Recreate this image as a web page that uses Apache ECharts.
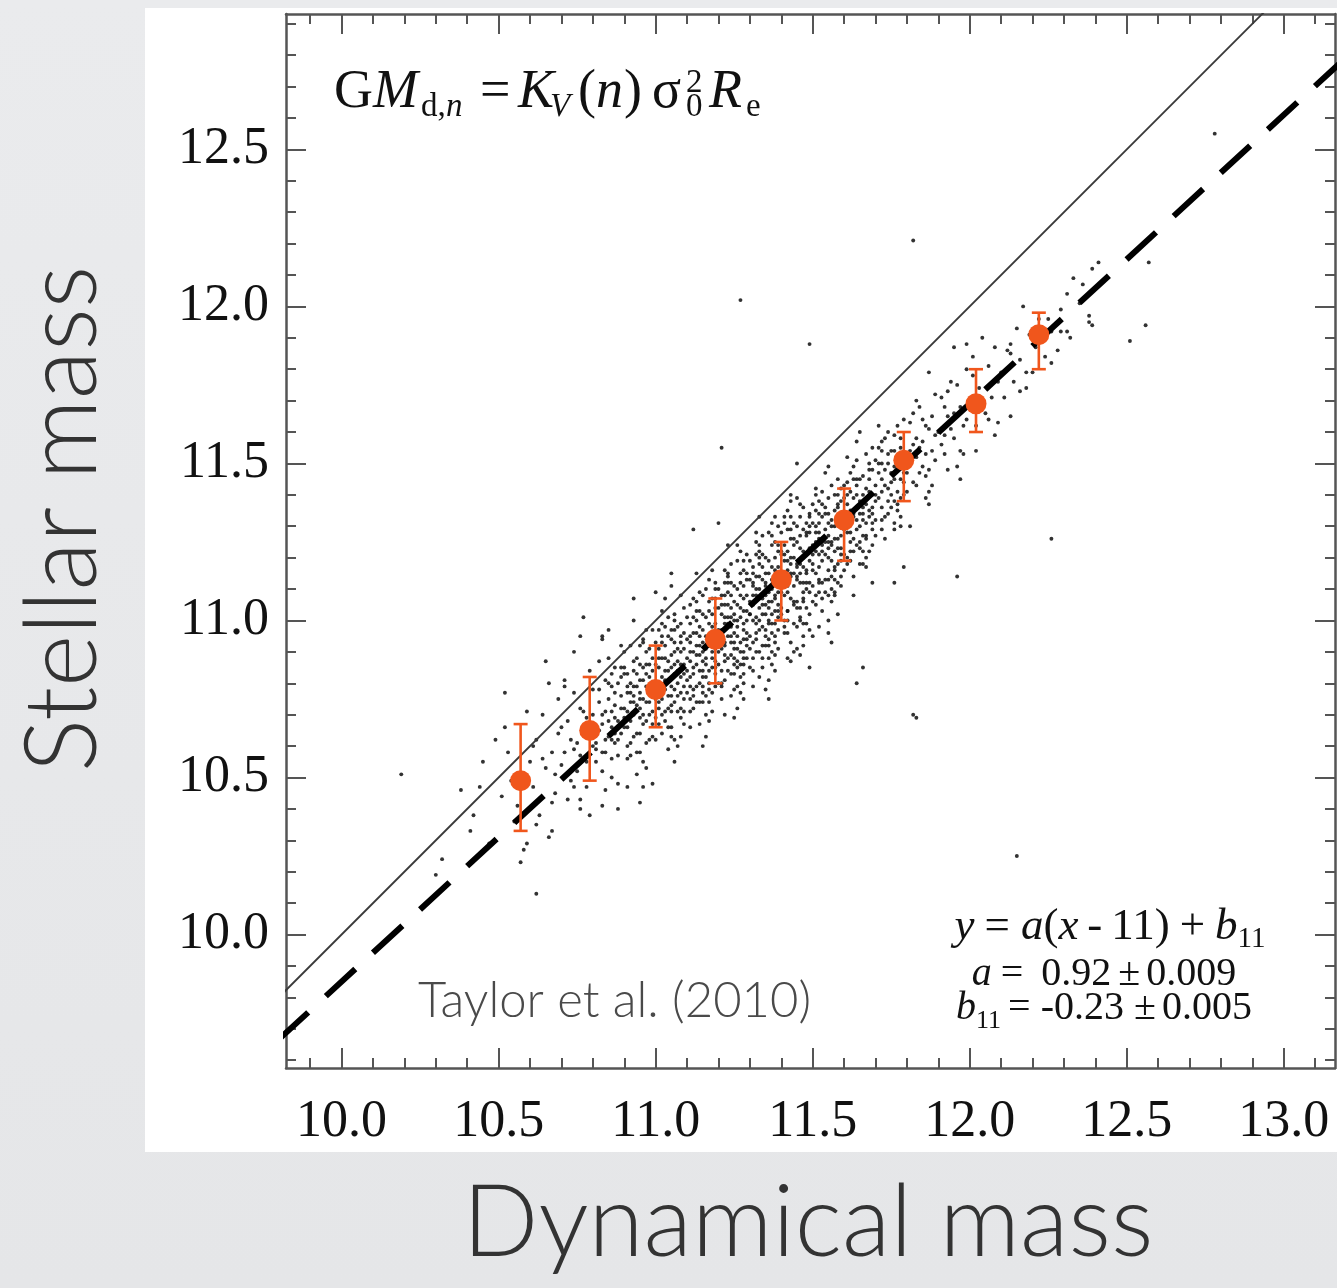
<!DOCTYPE html>
<html>
<head>
<meta charset="utf-8">
<script src="https://cdn.jsdelivr.net/npm/echarts@6/dist/echarts.min.js"></script>
<style>
  html, body { margin: 0; padding: 0; width: 1337px; height: 1288px; overflow: hidden;
    background: linear-gradient(180deg, #eaebed 0%, #e5e6e8 100%); }
  #panel { position: absolute; left: 145px; top: 8px; width: 1192px; height: 1144px; background: #ffffff; }
  #chart { position: absolute; left: 0; top: 0; width: 1337px; height: 1288px; }
</style>
</head>
<body>
<div id="panel"></div>
<div id="chart"></div>
<script>
// ---- axis ranges and tick labels (log masses) ----
const xRange = [9.823, 13.163];
const yRange = [9.575, 12.931];
const xMajorTicks = [10.0, 10.5, 11.0, 11.5, 12.0, 12.5, 13.0];
const yMajorTicks = [10.0, 10.5, 11.0, 11.5, 12.0, 12.5];

// ---- binned medians with error bars ----
const binDyn    = [10.57, 10.79, 11.00, 11.19, 11.40, 11.60, 11.79, 12.02, 12.22];
const binStel   = [10.49, 10.65, 10.78, 10.94, 11.13, 11.32, 11.51, 11.69, 11.91];
const binStelHi = [10.67, 10.82, 10.92, 11.07, 11.25, 11.42, 11.60, 11.80, 11.98];
const binStelLo = [10.33, 10.49, 10.66, 10.80, 11.00, 11.19, 11.38, 11.60, 11.80];

// ---- fit parameters: y = a (x - 11) + b11, relative to the 10^11 pivot ----
const fitA = 0.92;
const fitAErr = 0.009;
const fitB11 = -0.23;
const fitB11Err = 0.005;
const fitPivot = 11;
const lineSpan = [9.5, 13.5];

// ---- individual galaxies: [log M_dyn, log M_star] ----
const galaxiesSparse = [
  [10.19,10.51],[11.27,12.02],[11.49,11.88],[11.82,12.21],[12.78,12.55],[12.26,11.26],[11.83,10.69],
  [12.15,10.25],[11.66,10.85],[11.64,10.80],[11.96,11.14],[10.62,10.13],[10.30,10.19],[10.32,10.24],
  [10.38,10.46],[12.41,12.14],[12.57,12.14],[12.56,11.94],[12.51,11.89],[12.38,11.97],[12.39,11.94],
  [12.33,12.09],[12.36,12.07],[12.31,12.04],[12.17,12.00],[12.39,12.12],[11.76,11.12],[11.79,11.17],
  [11.82,10.70],[11.56,10.93],[11.49,10.85],[11.43,10.87],[11.21,11.55],[11.12,11.29],[11.20,11.31],
  [11.05,11.15],[11.00,11.09],[10.93,11.07],[11.45,11.50],[10.85,10.97],[11.05,11.11],[10.77,11.01],
  [10.76,10.95],[10.83,10.94],[10.52,10.77],[10.65,10.87],[10.71,10.81],[10.95,10.42],[10.88,10.40],
  [10.83,10.41],[10.76,10.40],[10.74,10.47],[10.67,10.33],[10.59,10.29],[10.57,10.23],[10.91,10.47],
  [10.99,10.48],[11.87,11.79],[11.95,11.87],[11.99,11.88],[12.04,11.90],[12.08,11.87],[12.13,11.88],
  [12.13,11.85],[12.16,11.73],[12.13,11.65],[12.09,11.63],[12.28,11.86],[12.31,11.92],[11.97,11.45],
  [11.98,11.53],[12.02,11.54],[11.93,11.48],[11.87,11.37],[11.83,11.43],[11.81,11.30],[11.78,11.30],
  [11.69,11.34],[11.87,11.41],[12.15,11.93],[12.18,11.79],[12.20,11.79],[12.26,11.82],[12.29,11.92],
  [12.25,11.96]
];

const galaxiesCore = [
  [10.42,10.38],[10.45,10.55],[10.47,10.29],[10.44,10.47],[10.49,10.62],[10.41,10.33],
  [10.51,10.44],[10.53,10.58],[10.55,10.36],[10.52,10.66],[10.57,10.51],[10.58,10.27],[10.54,10.49],
  [10.59,10.71],[10.56,10.41],[10.60,10.55],
  [10.61,10.47],[10.62,10.62],[10.63,10.38],[10.64,10.70],[10.65,10.53],[10.66,10.31],[10.67,10.58],
  [10.68,10.45],[10.66,10.80],[10.69,10.64],[10.62,10.35],[10.64,10.56],[10.67,10.42],[10.69,10.75],
  [10.61,10.60],[10.68,10.51],
  [10.71,10.58],[10.72,10.68],[10.73,10.49],[10.74,10.77],[10.75,10.61],[10.76,10.43],[10.77,10.71],
  [10.78,10.55],[10.79,10.84],[10.70,10.66],[10.72,10.43],[10.74,10.59],[10.76,10.72],[10.78,10.47],
  [10.71,10.79],[10.73,10.62],[10.75,10.52],[10.77,10.64],[10.79,10.38],[10.70,10.54],[10.74,10.90],
  [10.76,10.57],[10.78,10.69],[10.80,10.60],
  [10.81,10.66],[10.82,10.74],[10.83,10.58],[10.84,10.81],[10.85,10.63],[10.86,10.50],[10.87,10.77],
  [10.88,10.68],[10.89,10.92],[10.81,10.55],[10.82,10.87],[10.83,10.70],[10.84,10.46],[10.85,10.75],
  [10.86,10.62],[10.87,10.85],[10.88,10.57],[10.89,10.72],[10.80,10.78],[10.81,10.61],[10.83,10.95],
  [10.85,10.68],[10.86,10.79],[10.88,10.48],[10.89,10.64],[10.82,10.65],[10.84,10.71],[10.86,10.56],
  [10.87,10.69],[10.90,10.83],[10.83,10.52],[10.85,10.88],[10.87,10.61],[10.89,10.76],[10.84,10.62],
  [10.91,10.71],[10.92,10.80],[10.93,10.63],[10.94,10.88],[10.95,10.69],[10.96,10.55],[10.97,10.83],
  [10.98,10.74],[10.99,10.97],[10.91,10.60],[10.92,10.92],[10.93,10.76],[10.94,10.51],[10.95,10.81],
  [10.96,10.67],[10.97,10.90],[10.98,10.62],[10.99,10.78],[10.90,10.85],[10.91,10.66],[10.93,11.00],
  [10.94,10.73],[10.95,10.86],[10.97,10.53],[10.98,10.70],[10.92,10.68],[10.93,10.84],[10.95,10.58],
  [10.96,10.75],[10.99,10.88],[10.91,10.77],[10.94,10.64],[10.96,10.94],[10.98,10.82],[10.90,10.72],
  [10.92,10.57],[10.95,10.77],[10.97,10.68],[10.99,10.63],[10.93,10.70],[10.94,10.79],[10.96,10.47],
  [10.98,10.91],[10.91,10.83],[10.95,10.64],[10.97,10.79],[10.92,10.74],[10.99,10.71],[10.94,10.58],
  [10.96,10.85],
  [11.01,10.79],[11.02,10.88],[11.03,10.71],[11.04,10.95],[11.05,10.76],[11.06,10.62],[11.07,10.91],
  [11.08,10.82],[11.09,11.04],[11.01,10.67],[11.02,10.99],[11.03,10.84],[11.04,10.59],[11.05,10.89],
  [11.06,10.74],[11.07,10.98],[11.08,10.69],[11.09,10.86],[11.00,10.93],[11.01,10.74],[11.03,11.07],
  [11.04,10.81],[11.05,10.94],[11.07,10.60],[11.08,10.77],[11.02,10.75],[11.03,10.92],[11.05,10.66],
  [11.06,10.83],[11.09,10.96],[11.01,10.85],[11.04,10.72],[11.06,11.02],[11.08,10.90],[11.00,10.80],
  [11.02,10.64],[11.05,10.85],[11.07,10.76],[11.09,10.71],[11.03,10.78],[11.04,10.87],[11.06,10.55],
  [11.08,10.99],[11.01,10.91],[11.05,10.71],[11.07,10.87],[11.02,10.82],[11.09,10.79],[11.04,10.66],
  [11.06,10.93],[11.03,10.98],[11.08,10.63],[11.00,10.69],[11.05,10.79],[11.07,10.84],[11.09,10.91],
  [11.02,10.70],[11.06,10.78],[11.04,11.01],[11.08,10.86],
  [11.11,10.87],[11.12,10.96],[11.13,10.79],[11.14,11.03],[11.15,10.84],[11.16,10.70],[11.17,10.99],
  [11.18,10.90],[11.19,11.12],[11.11,10.75],[11.12,11.07],[11.13,10.92],[11.14,10.67],[11.15,10.97],
  [11.16,10.82],[11.17,11.06],[11.18,10.77],[11.19,10.94],[11.10,11.01],[11.11,10.82],[11.13,11.15],
  [11.14,10.89],[11.15,11.02],[11.17,10.68],[11.18,10.85],[11.12,10.83],[11.13,11.00],[11.15,10.74],
  [11.16,10.91],[11.19,11.04],[11.11,10.93],[11.14,10.80],[11.16,11.10],[11.18,10.98],[11.10,10.88],
  [11.12,10.72],[11.15,10.93],[11.17,10.84],[11.19,10.79],[11.13,10.86],[11.14,10.95],[11.16,10.63],
  [11.18,11.07],[11.11,10.99],[11.15,10.79],[11.17,10.95],[11.12,10.90],[11.19,10.87],[11.14,10.74],
  [11.16,11.01],[11.13,11.06],[11.18,10.71],[11.10,10.77],[11.15,10.87],[11.17,10.92],[11.19,10.99],
  [11.12,10.78],[11.16,10.86],[11.14,11.09],[11.18,10.94],[11.11,10.66],[11.13,10.96],[11.17,11.13],
  [11.15,10.60],[11.19,10.83],
  [11.21,10.96],[11.22,11.05],[11.23,10.88],[11.24,11.12],[11.25,10.93],[11.26,10.79],[11.27,11.08],
  [11.28,10.99],[11.29,11.21],[11.21,10.84],[11.22,11.16],[11.23,11.01],[11.24,10.76],[11.25,11.06],
  [11.26,10.91],[11.27,11.15],[11.28,10.86],[11.29,11.03],[11.20,11.10],[11.21,10.91],[11.23,11.24],
  [11.24,10.98],[11.25,11.11],[11.27,10.77],[11.28,10.94],[11.22,10.92],[11.23,11.09],[11.25,10.83],
  [11.26,11.00],[11.29,11.13],[11.21,11.02],[11.24,10.89],[11.26,11.19],[11.28,11.07],[11.20,10.97],
  [11.22,10.81],[11.25,11.02],[11.27,10.93],[11.29,10.88],[11.23,10.95],[11.24,11.04],[11.26,10.72],
  [11.28,11.16],[11.21,11.08],[11.25,10.88],[11.27,11.04],[11.22,10.99],[11.29,10.96],[11.24,10.83],
  [11.26,11.10],[11.23,11.15],[11.28,10.80],[11.20,10.86],[11.25,10.96],[11.27,11.01],[11.29,11.08],
  [11.22,10.87],[11.26,10.95],[11.24,11.18],[11.28,11.03],[11.21,10.75],[11.23,11.05],[11.27,11.22],
  [11.25,10.69],[11.29,10.92],[11.20,11.04],[11.22,11.12],[11.26,10.85],[11.28,10.90],[11.24,10.93],
  [11.31,11.05],[11.32,11.14],[11.33,10.97],[11.34,11.21],[11.35,11.02],[11.36,10.88],[11.37,11.17],
  [11.38,11.08],[11.39,11.30],[11.31,10.93],[11.32,11.25],[11.33,11.10],[11.34,10.85],[11.35,11.15],
  [11.36,11.00],[11.37,11.24],[11.38,10.95],[11.39,11.12],[11.30,11.19],[11.31,11.00],[11.33,11.33],
  [11.34,11.07],[11.35,11.20],[11.37,10.86],[11.38,11.03],[11.32,11.01],[11.33,11.18],[11.35,10.92],
  [11.36,11.09],[11.39,11.22],[11.31,11.11],[11.34,10.98],[11.36,11.28],[11.38,11.16],[11.30,11.06],
  [11.32,10.90],[11.35,11.11],[11.37,11.02],[11.39,10.97],[11.33,11.04],[11.34,11.13],[11.36,10.81],
  [11.38,11.25],[11.31,11.17],[11.35,10.97],[11.37,11.13],[11.32,11.08],[11.39,11.05],[11.34,10.92],
  [11.36,11.19],[11.33,11.24],[11.38,10.89],[11.30,10.95],[11.35,11.05],[11.37,11.10],[11.39,11.17],
  [11.32,10.96],[11.36,11.04],[11.34,11.27],[11.38,11.12],[11.31,10.84],[11.33,11.14],[11.37,11.31],
  [11.35,10.78],[11.39,11.01],[11.30,11.13],[11.32,11.21],[11.36,10.94],[11.38,10.99],[11.34,11.02],
  [11.40,11.21],[11.41,11.08],[11.42,11.29],[11.43,11.14],[11.44,10.99],[11.45,11.25],[11.46,11.18],
  [11.47,11.36],[11.48,11.10],[11.49,11.23],[11.40,11.02],[11.41,11.31],[11.42,11.16],[11.43,10.93],
  [11.44,11.20],[11.45,11.06],[11.46,11.33],[11.47,11.12],[11.48,11.27],[11.49,10.97],[11.41,11.19],
  [11.42,11.03],[11.43,11.26],[11.44,11.11],[11.45,11.39],[11.46,11.00],[11.47,11.22],[11.48,11.15],
  [11.49,11.34],[11.40,11.13],[11.42,10.96],[11.43,11.20],[11.45,11.13],[11.46,11.27],[11.48,11.04],
  [11.49,11.19],[11.41,11.24],[11.44,11.31],[11.47,10.95],[11.40,11.28],[11.43,11.07],[11.46,11.12],
  [11.49,11.28],[11.42,11.22],[11.45,10.91],[11.48,11.21],[11.41,11.00],[11.44,11.15],[11.47,11.29],
  [11.40,11.09],[11.43,11.33],[11.46,11.23],[11.49,11.09],[11.42,11.11],[11.45,11.18],[11.48,11.31],
  [11.44,11.05],[11.47,11.17],[11.41,11.14],[11.46,10.89],[11.43,11.38],[11.48,10.99],[11.45,11.30],
  [11.42,11.35],[11.47,11.06],
  [11.50,11.24],[11.51,11.35],[11.52,11.17],[11.53,11.41],[11.54,11.29],[11.55,11.08],[11.56,11.32],
  [11.57,11.22],[11.58,11.45],[11.59,11.19],[11.50,11.11],[11.51,11.28],[11.52,11.38],[11.53,11.03],
  [11.54,11.21],[11.55,11.34],[11.56,11.14],[11.57,11.40],[11.58,11.26],[11.59,11.33],[11.50,11.31],
  [11.51,11.15],[11.52,11.26],[11.53,11.19],[11.54,11.47],[11.55,11.23],[11.56,11.06],[11.57,11.30],
  [11.58,11.12],[11.59,11.42],[11.51,11.22],[11.52,11.09],[11.53,11.33],[11.55,11.27],[11.56,11.43],
  [11.58,11.18],[11.59,11.27],[11.50,11.18],[11.52,11.31],[11.54,11.13],[11.56,11.25],[11.58,11.36],
  [11.51,11.42],[11.53,11.25],[11.55,11.16],[11.57,11.09],[11.59,11.23],[11.50,11.37],[11.52,11.21],
  [11.54,11.36],[11.56,11.19],[11.58,11.31],[11.53,11.12],[11.55,11.39],[11.57,11.26],[11.51,11.05],
  [11.54,11.25],[11.57,11.35],[11.59,11.11],[11.55,11.00],
  [11.60,11.33],[11.61,11.44],[11.62,11.25],[11.63,11.39],[11.64,11.51],[11.65,11.30],[11.66,11.18],
  [11.67,11.42],[11.68,11.35],[11.69,11.55],[11.60,11.21],[11.61,11.37],[11.62,11.47],[11.63,11.14],
  [11.64,11.32],[11.65,11.45],[11.66,11.27],[11.67,11.53],[11.68,11.22],[11.69,11.40],[11.60,11.43],
  [11.62,11.31],[11.63,11.26],[11.64,11.40],[11.66,11.36],[11.67,11.20],[11.68,11.48],[11.69,11.29],
  [11.61,11.28],[11.63,11.49],[11.65,11.38],[11.67,11.31],[11.69,11.36],[11.60,11.39],[11.62,11.19],
  [11.64,11.24],[11.66,11.46],[11.68,11.41],[11.61,11.52],[11.65,11.23],[11.67,11.37],[11.63,11.34],
  [11.66,11.32],[11.64,11.57],[11.62,11.41],
  [11.70,11.43],[11.71,11.55],[11.72,11.36],[11.73,11.48],[11.74,11.60],[11.75,11.40],[11.76,11.29],
  [11.77,11.52],[11.78,11.45],[11.79,11.64],[11.70,11.32],[11.71,11.47],[11.72,11.57],[11.73,11.26],
  [11.74,11.42],[11.75,11.54],[11.76,11.38],[11.77,11.62],[11.78,11.33],[11.79,11.50],[11.71,11.39],
  [11.73,11.58],[11.75,11.47],[11.77,11.41],[11.79,11.44],[11.70,11.51],[11.72,11.45],[11.74,11.34],
  [11.76,11.59],[11.78,11.55],[11.71,11.62],[11.74,11.50],[11.77,11.35],[11.72,11.29],[11.76,11.49],
  [11.80,11.52],[11.81,11.63],[11.82,11.44],[11.83,11.58],[11.84,11.68],[11.85,11.49],[11.86,11.39],
  [11.87,11.61],[11.88,11.54],[11.89,11.72],[11.80,11.41],[11.82,11.56],[11.84,11.47],[11.85,11.64],
  [11.86,11.53],[11.88,11.43],[11.89,11.59],[11.81,11.50],[11.83,11.70],[11.85,11.57],[11.87,11.48],
  [11.89,11.51],[11.82,11.66],[11.84,11.55],[11.86,11.62],
  [11.90,11.60],[11.91,11.71],[11.92,11.53],[11.93,11.65],[11.94,11.76],[11.95,11.58],[11.96,11.49],
  [11.97,11.68],[11.98,11.62],[11.99,11.80],[11.91,11.56],[11.93,11.73],[11.95,11.66],[11.97,11.54],
  [11.99,11.64],[11.92,11.68],[11.94,11.61],[11.96,11.75],
  [12.00,11.69],[12.01,11.78],[12.02,11.62],[12.03,11.74],[12.05,11.66],[12.06,11.81],[12.07,11.71],
  [12.08,11.59],[12.09,11.76],[12.04,11.70],[12.01,11.84],[12.06,11.64],
  [12.10,11.79],[12.11,11.71],[12.12,11.86],[12.14,11.76],[12.16,11.83],[12.18,11.74],[12.19,11.91],
  [12.13,11.81],
  [12.21,11.87],[12.22,11.96],[12.24,11.84],[12.26,11.92],[12.29,11.99],[12.32,11.90],[12.35,12.01],
  [12.38,11.95]
];

// densest part of the sequence, near the fitted relation
const galaxiesRidge = [
  [10.86,10.71],[10.88,10.80],[10.90,10.66],[10.92,10.77],[10.93,10.87],[10.95,10.72],[10.96,10.81],
  [10.97,10.61],[10.99,10.84],[11.00,10.75],[11.01,10.88],[11.02,10.78],[11.03,10.68],[11.04,10.84],
  [11.05,10.73],[11.06,10.90],[11.07,10.80],[11.08,10.72],[11.09,10.83],[11.10,10.94],[11.10,10.81],
  [11.11,10.90],[11.12,10.85],[11.13,10.74],[11.14,10.92],[11.15,10.82],[11.16,10.95],[11.17,10.78],
  [11.18,10.88],[11.19,10.96],[11.20,10.90],[11.20,10.80],[11.21,10.97],[11.22,10.93],[11.23,10.84],
  [11.24,11.01],[11.25,10.91],[11.26,11.05],[11.27,10.86],[11.28,10.97],[11.29,11.00],[11.30,10.91],
  [11.30,11.02],[11.31,11.08],[11.32,10.99],[11.33,10.90],[11.34,11.05],[11.35,11.12],[11.36,10.99],
  [11.37,11.06],[11.38,10.93],[11.39,11.09],[11.40,11.15],[11.40,11.04],[11.41,10.96],[11.42,11.09],
  [11.43,11.18],[11.44,11.06],[11.45,11.14],[11.46,11.04],[11.47,11.20],[11.48,11.12],[11.49,11.02],
  [11.50,11.16],[11.51,11.25],[11.52,11.13],[11.53,11.22],[11.54,11.09],[11.55,11.20],[11.56,11.30],
  [11.57,11.17],[11.58,11.23],[11.59,11.14],[11.60,11.29],[11.61,11.20],[11.62,11.35],[11.63,11.22],
  [11.64,11.29],[11.65,11.18],[11.66,11.40],[11.67,11.27],[11.68,11.33],[11.69,11.24],[11.70,11.38],
  [11.72,11.41],[11.73,11.33],[11.75,11.44],[11.77,11.48],[11.79,11.40],[11.81,11.54],
  [10.87,10.64],[10.89,10.85],[10.91,10.56],[10.93,10.79],[10.95,10.92],[10.97,10.74],[10.98,10.86],
  [11.00,10.62],[11.01,10.97],[11.03,10.88],[11.05,10.63],[11.06,10.97],[11.08,10.93],[11.09,10.67],
  [11.11,10.79],[11.12,11.01],[11.14,10.84],[11.16,10.76],[11.17,11.03],[11.19,10.91],[11.21,10.80],
  [11.22,11.08],[11.24,10.95],[11.25,10.78],[11.27,11.12],[11.28,10.88],[11.30,10.85],[11.31,11.15],
  [11.33,11.00],[11.34,10.88],[11.36,11.15],[11.37,10.96],[11.39,10.91],[11.40,11.22],[11.42,11.00],
  [11.44,11.24],[11.45,10.98],[11.47,11.09],[11.49,11.30],[11.50,11.06],[11.52,11.34],[11.53,11.07],
  [11.55,11.31],[11.57,11.13],[11.58,11.40],[11.60,11.16],[11.62,11.28],[11.64,11.45],[11.66,11.22],
  [11.68,11.50],[11.70,11.27],[11.72,11.50],[11.74,11.38],[11.76,11.54],[11.78,11.39],[11.80,11.47],
  [11.83,11.52],[11.86,11.46],[11.88,11.65],[11.92,11.59],
  [11.22,10.70],[11.28,10.75],[11.33,10.82],[11.38,10.84],[11.42,10.88],[11.47,10.92],[11.52,10.98],
  [11.58,11.02],[11.63,11.08],[11.69,11.12],[11.31,10.79],[11.44,10.90],[11.55,10.96],[11.36,10.75],
  [11.50,10.95],
  [11.08,11.08],[11.18,11.16],[11.32,11.28],[11.43,11.40],[11.02,11.03],[10.97,10.97],[11.55,11.49],
  [11.65,11.60],[11.26,11.24],[11.38,11.33]
];

const galaxiesRidge2 = [
  [10.95,10.75],[10.96,10.70],[10.97,10.86],[10.98,10.77],[10.99,10.67],[11.00,10.86],[11.01,10.72],
  [11.02,10.93],[11.03,10.81],[11.04,10.76],[11.05,10.97],[11.06,10.86],[11.07,10.71],[11.08,10.95],
  [11.09,10.75],
  [11.10,10.84],[11.11,10.95],[11.12,10.76],[11.13,10.89],[11.14,10.98],[11.15,10.77],[11.16,10.88],
  [11.17,10.80],[11.18,11.02],[11.19,10.85],[11.11,10.71],[11.13,11.03],[11.15,10.90],[11.17,10.74],
  [11.19,11.07],
  [11.20,10.93],[11.21,11.05],[11.22,10.89],[11.23,10.99],[11.24,11.08],[11.25,10.86],[11.26,10.98],
  [11.27,10.90],[11.28,11.11],[11.29,10.94],[11.21,10.79],[11.23,11.12],[11.25,11.00],[11.27,10.82],
  [11.29,11.15],[11.22,11.01],[11.26,10.87],[11.28,10.83],
  [11.30,11.02],[11.31,11.12],[11.32,10.94],[11.33,11.07],[11.34,11.17],[11.35,10.95],[11.36,11.06],
  [11.37,10.99],[11.38,11.20],[11.39,11.03],[11.31,10.88],[11.33,11.20],[11.35,11.08],[11.37,10.90],
  [11.39,11.24],[11.32,11.10],[11.36,10.92],[11.38,11.07],
  [11.40,11.11],[11.41,11.21],[11.42,11.03],[11.43,11.15],[11.44,11.26],[11.45,11.04],[11.46,11.15],
  [11.47,11.07],[11.48,11.28],[11.49,11.12],[11.41,10.98],[11.43,11.29],[11.45,11.17],[11.47,10.99],
  [11.49,11.33],[11.42,11.19],[11.46,11.01],[11.48,11.16],
  [11.50,11.21],[11.51,11.30],[11.52,11.12],[11.53,11.24],[11.54,11.34],[11.55,11.13],[11.56,11.24],
  [11.57,11.16],[11.58,11.37],[11.59,11.21],[11.51,11.08],[11.53,11.37],[11.55,11.25],[11.57,11.08],
  [11.59,11.38],[11.52,11.28],[11.56,11.10],
  [11.60,11.30],[11.61,11.40],[11.62,11.22],[11.63,11.33],[11.64,11.43],[11.65,11.25],[11.66,11.34],
  [11.67,11.26],[11.68,11.45],[11.69,11.31],[11.61,11.18],[11.63,11.45],[11.65,11.34],[11.67,11.17],
  [11.69,11.48],
  [11.70,11.40],[11.71,11.50],[11.72,11.32],[11.73,11.43],[11.74,11.53],[11.75,11.36],[11.76,11.45],
  [11.77,11.37],[11.78,11.58],[11.79,11.47],[11.72,11.54],[11.76,11.31],
  [10.80,10.70],[10.81,10.59],[10.82,10.78],[10.83,10.67],[10.84,10.58],[10.85,10.80],[10.86,10.66],
  [10.87,10.73],[10.88,10.62],[10.89,10.82],[10.90,10.69],[10.91,10.79],[10.92,10.61],[10.93,10.74],
  [10.94,10.83],
  [11.02,10.95],[11.06,11.00],[11.11,11.05],[11.15,11.08],[11.19,11.10],[11.23,11.14],[11.28,11.19],
  [11.33,11.22],[11.37,11.27],[11.41,11.33],[11.46,11.37],[11.51,11.40],[10.90,10.90],[10.86,10.83],
  [10.96,10.93]
];

// ---- styling ----
const SERIF = '"Liberation Serif", "Times New Roman", serif';
const SANS_LIGHT = 'Lato, "Open Sans", sans-serif';
const FRAME = '#555555';
const ORANGE = '#f0561c';

const chart = echarts.init(document.getElementById('chart'), null, { renderer: 'canvas' });

// minor tick positions every 0.1 between the labelled ticks
function minorTicks(range, majors) {
  const out = [];
  for (let k = Math.ceil(range[0] * 10); k <= Math.floor(range[1] * 10); k++) {
    const v = k / 10;
    if (!majors.some(m => Math.abs(m - v) < 1e-6)) out.push(v);
  }
  return out;
}
const xMinorTicks = minorTicks(xRange, xMajorTicks);
const yMinorTicks = minorTicks(yRange, yMajorTicks);

function makeAxis(range, gridIndex, position, ticks, tickLen, withLine, withLabels, labelMargin) {
  return {
    type: 'value', gridIndex, position, min: range[0], max: range[1],
    axisLine: { show: withLine, onZero: false, lineStyle: { color: FRAME, width: 2.5 } },
    axisTick: { show: true, inside: true, length: tickLen, customValues: ticks,
                lineStyle: { color: FRAME, width: 2 } },
    axisLabel: withLabels ? {
      show: true, customValues: ticks, margin: labelMargin,
      formatter: v => Number(v).toFixed(1),
      color: '#111', fontFamily: SERIF, fontSize: 52
    } : { show: false },
    splitLine: { show: false }, minorTick: { show: false }
  };
}

const gridBox = { left: 286, top: 14, width: 1049, height: 1054 };

// ---- text helpers: pieces sit on an alphabetic baseline ----
const measureCtx = document.createElement('canvas').getContext('2d');
function fontOf(size, italic, family, weight) {
  return (italic ? 'italic ' : '') + (weight || 'normal') + ' ' + size + 'px ' + (family || SERIF);
}
function textWidth(t, size, italic) {
  measureCtx.font = fontOf(size, italic);
  return measureCtx.measureText(t).width;
}
function piece(text, x, baseline, size, italic, family, color, weight) {
  const fam = family || SERIF;
  const k = fam === SERIF ? 0.3375 : 0.387;
  return {
    type: 'text', x: x, y: baseline - k * size, silent: true, z: 10,
    style: {
      text: text, fontFamily: fam, fontSize: size,
      fontStyle: italic ? 'italic' : 'normal', fontWeight: weight || 'normal',
      fill: color || '#111', align: 'left', verticalAlign: 'middle'
    }
  };
}
// a run of pieces laid out left to right and centred on cx
// each item: [text, size, italic, baselineShift, gapBefore, stacked]
function centredRun(items, cx, baseline) {
  let total = 0;
  const xs = [];
  items.forEach(it => {
    total += it[4] || 0;
    xs.push(total);
    if (!it[5]) total += textWidth(it[0], it[1], it[2]);
  });
  const x0 = cx - total / 2;
  return items.map((it, i) => piece(it[0], x0 + xs[i], baseline + (it[3] || 0), it[1], it[2]));
}

// virial mass estimator, top left
const fB = 111, fS = 54, fs = 33;
const formulaTop = [
  piece('G', 334, fB, fS, false),
  piece('M', 373, fB, fS, true),
  piece('d,', 421, fB + 7, fs, false),
  piece('n', 446, fB + 7, fs, true),
  piece('=', 480, fB, fS, false),
  piece('K', 518, fB, fS, true),
  piece('V', 550, fB + 7, fs, true),
  piece('(', 578, fB, fS, false),
  piece('n', 596, fB, fS, true),
  piece(')', 624, fB, fS, false),
  piece('σ', 652, fB, fS, false),
  piece('2', 686, fB - 17, fs, false),
  piece('0', 686, fB + 7, fs, false),
  piece('R', 709, fB, fS, true),
  piece('e', 746, fB + 7, fs, false)
];

// fit summary, bottom right
const s1 = 45, s1s = 29, s2 = 40, s2s = 26;
const fitText = [].concat(
  centredRun([
    ['y', s1, true], ['=', s1, false, 0, 10], ['a', s1, true, 0, 11], ['(', s1, false], ['x', s1, true],
    ['-', s1, false, 0, 9], ['11', s1, false, 0, 9], [')', s1, false], ['+', s1, false, 0, 10],
    ['b', s1, true, 0, 10], ['11', s1s, false, 7]
  ], 1110, 942),
  centredRun([
    ['a', s2, true], ['=', s2, false, 0, 9], [fitA.toFixed(2), s2, false, 0, 18],
    ['±', s2, false, 0, 7], [fitAErr.toFixed(3), s2, false, 0, 6]
  ], 1104, 988),
  centredRun([
    ['b', s2, true], ['11', s2s, false, 8], ['=', s2, false, 0, 7], [fitB11.toFixed(2), s2, false, 0, 10],
    ['±', s2, false, 0, 10], [fitB11Err.toFixed(3), s2, false, 0, 6]
  ], 1104, 1022)
);

const option = {
  animation: false,
  backgroundColor: 'transparent',
  grid: [
    Object.assign({ show: false }, gridBox),
    Object.assign({ show: false }, gridBox)
  ],
  xAxis: [
    makeAxis(xRange, 0, 'bottom', xMajorTicks, 20, true, true, 28),
    makeAxis(xRange, 0, 'top', xMajorTicks, 20, true, false),
    makeAxis(xRange, 1, 'bottom', xMinorTicks, 10, false, false),
    makeAxis(xRange, 1, 'top', xMinorTicks, 10, false, false)
  ],
  yAxis: [
    makeAxis(yRange, 0, 'left', yMajorTicks, 20, true, true, 17),
    makeAxis(yRange, 0, 'right', yMajorTicks, 20, true, false),
    makeAxis(yRange, 1, 'left', yMinorTicks, 10, false, false),
    makeAxis(yRange, 1, 'right', yMinorTicks, 10, false, false)
  ],
  series: [
    {
      type: 'scatter', xAxisIndex: 0, yAxisIndex: 0, silent: true, z: 1,
      symbol: 'circle', symbolSize: 3.9,
      itemStyle: { color: '#161616', opacity: 0.88 },
      data: galaxiesSparse.concat(galaxiesCore, galaxiesRidge, galaxiesRidge2)
    },
    {
      type: 'line', xAxisIndex: 0, yAxisIndex: 0, silent: true, z: 2, clip: true,
      symbol: 'none',
      lineStyle: { color: '#3a3a3a', width: 1.8 },
      data: lineSpan.map(v => [v, v])
    },
    {
      type: 'line', xAxisIndex: 0, yAxisIndex: 0, silent: true, z: 3, clip: true,
      symbol: 'none',
      lineStyle: { color: '#000', width: 6, type: [40, 24], cap: 'butt' },
      data: lineSpan.map(v => [v, fitA * (v - fitPivot) + fitPivot + fitB11])
    },
    {
      type: 'custom', xAxisIndex: 0, yAxisIndex: 0, silent: true, z: 4,
      data: binDyn.map((x, i) => [x, binStelLo[i], binStelHi[i]]),
      renderItem: function (params, api) {
        const lo = api.coord([api.value(0), api.value(1)]);
        const hi = api.coord([api.value(0), api.value(2)]);
        const w = 7;
        const st = { stroke: ORANGE, lineWidth: 2.6 };
        return {
          type: 'group',
          children: [
            { type: 'line', shape: { x1: lo[0], y1: lo[1], x2: hi[0], y2: hi[1] }, style: st },
            { type: 'line', shape: { x1: lo[0] - w, y1: lo[1], x2: lo[0] + w, y2: lo[1] }, style: st },
            { type: 'line', shape: { x1: hi[0] - w, y1: hi[1], x2: hi[0] + w, y2: hi[1] }, style: st }
          ]
        };
      }
    },
    {
      type: 'scatter', xAxisIndex: 0, yAxisIndex: 0, silent: true, z: 5,
      symbol: 'circle', symbolSize: 21,
      itemStyle: { color: ORANGE, opacity: 1 },
      data: binDyn.map((x, i) => [x, binStel[i]])
    }
  ],
  graphic: {
    elements: [
      ...formulaTop,
      ...fitText,
      piece('Taylor et al. (2010)', 418, 1020, 49, false, SANS_LIGHT, '#4a4a4a', 300),
      {
        type: 'text', x: 64, y: 519, rotation: Math.PI / 2, silent: true,
        style: { text: 'Stellar mass', fontFamily: SANS_LIGHT, fontWeight: 300, fontSize: 100,
                 fill: '#333', align: 'center', verticalAlign: 'middle' }
      },
      {
        type: 'text', x: 808, y: 1262 - 0.387 * 100, silent: true,
        style: { text: 'Dynamical mass', fontFamily: SANS_LIGHT, fontWeight: 300, fontSize: 100,
                 fill: '#333', align: 'center', verticalAlign: 'middle' }
      }
    ]
  }
};

chart.setOption(option);
</script>
</body>
</html>
